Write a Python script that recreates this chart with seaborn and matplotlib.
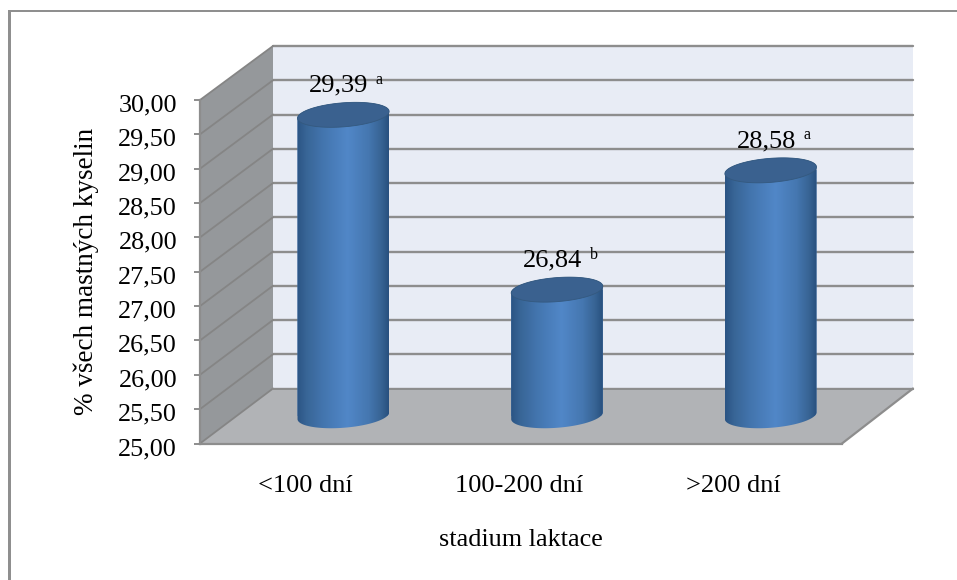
import numpy as np
import pandas as pd
import matplotlib
matplotlib.use("Agg")
import matplotlib.pyplot as plt
import seaborn as sns
from matplotlib.colors import LinearSegmentedColormap
from matplotlib.lines import Line2D
from matplotlib.patches import Polygon, Rectangle
from matplotlib.path import Path
from matplotlib.transforms import IdentityTransform, ScaledTranslation

stages = ["<100 dní", "100-200 dní", ">200 dní"]
fat_acids = [29.39, 26.84, 28.58]
letters = ["a", "b", "a"]
y_ticks = [25.0, 25.5, 26.0, 26.5, 27.0, 27.5, 28.0, 28.5, 29.0, 29.5, 30.0]

W, H = 957, 580
GRID = "#8d8d8d"


def comma(v):
    return f"{v:.2f}".replace(".", ",")


def add_axes_px(fig, left, top, right, bottom, **kw):
    return fig.add_axes([left / W, 1 - bottom / H, (right - left) / W, (bottom - top) / H], **kw)


sns.set_theme(style="white")
plt.rcParams["font.family"] = ["Liberation Serif", "DejaVu Serif"]

fig = plt.figure(figsize=(W / 100, H / 100), dpi=100, facecolor="white")
identity = IdentityTransform()

# Outer chart frame: only the top and left edges are visible
fig.add_artist(Rectangle((8, 0), 3, H - 10, transform=identity, fc="#8f8f8f", ec="none"))
fig.add_artist(Rectangle((8, H - 12), W - 8, 2, transform=identity, fc="#8f8f8f", ec="none"))

# Back wall with horizontal gridlines
ax_back = add_axes_px(fig, 273, 46, 913, 388.5, facecolor="#e8ecf5", zorder=1)
ax_back.set_ylim(25, 30)
ax_back.set_xlim(-0.5, 2.5)
ax_back.set_xticks([])
ax_back.set_yticks(y_ticks)
ax_back.tick_params(left=False, labelleft=False)
ax_back.grid(axis="y", color=GRID, lw=1.7)
ax_back.set_axisbelow(True)
for gridline in ax_back.get_ygridlines():
    gridline.set_clip_on(False)
sns.despine(ax=ax_back, left=True, bottom=True, right=True, top=True)

# Front plane carries the value axis and the category labels
ax_front = add_axes_px(fig, 200, 100, 842, 443.5, facecolor="none", zorder=4)
ax_front.set_ylim(25, 30)
ax_front.set_xlim(-0.5, 2.5)
ax_front.set_yticks(y_ticks)
ax_front.set_yticklabels([comma(t) for t in y_ticks], fontsize=18.8)
ax_front.set_xticks(range(len(stages)))
ax_front.set_xticklabels(stages, fontsize=19)
ax_front.tick_params(axis="y", left=True, length=4.5, width=1.4, color=GRID, pad=12, labelcolor="black")
ax_front.tick_params(axis="x", bottom=False, pad=17, labelcolor="black")
nudge_x = ScaledTranslation(-2 / 100, 0, fig.dpi_scale_trans)
for label in ax_front.get_xticklabels():
    label.set_transform(label.get_transform() + nudge_x)
nudge_y = ScaledTranslation(0, -3 / 100, fig.dpi_scale_trans)
for label in ax_front.get_yticklabels():
    label.set_transform(label.get_transform() + nudge_y)
ax_front.set_ylabel("% všech mastných kyselin", fontsize=19.5, color="black", labelpad=14)
ax_front.set_xlabel("stadium laktace", fontsize=18.8, color="black", labelpad=23)
sns.despine(ax=ax_front, top=True, right=True)
for side in ("left", "bottom"):
    ax_front.spines[side].set_color(GRID)
    ax_front.spines[side].set_linewidth(1.6)

fig.canvas.draw()


def front_px(x, v):
    return ax_front.transData.transform((x, v))


def back_px(x, v):
    return ax_back.transData.transform((x, v))


# Side wall and floor joining the front plane to the back wall
ax_back.add_patch(Polygon([front_px(-0.5, 25), back_px(-0.5, 25), back_px(-0.5, 30), front_px(-0.5, 30)],
                          transform=identity, fc="#95989b", ec="none", clip_on=False, zorder=3))
ax_back.add_patch(Polygon([front_px(-0.5, 25), back_px(-0.5, 25), back_px(2.5, 25), front_px(2.5, 25)],
                          transform=identity, fc="#b1b3b6", ec="none", clip_on=False, zorder=3))
for t in y_ticks:
    p0, p1 = front_px(-0.5, t), back_px(-0.5, t)
    ax_back.add_line(Line2D([p0[0], p1[0]], [p0[1], p1[1]], transform=identity, color="#858585",
                            lw=1.3, clip_on=False, zorder=4))
p0, p1 = front_px(2.5, 25), back_px(2.5, 25)
ax_back.add_line(Line2D([p0[0], p1[0]], [p0[1], p1[1]], transform=identity, color=GRID,
                        lw=1.6, clip_on=False, zorder=4))
p0, p1 = back_px(-0.5, 25), back_px(2.5, 25)
ax_back.add_line(Line2D([p0[0], p1[0]], [p0[1], p1[1]], transform=identity, color=GRID,
                        lw=1.4, clip_on=False, zorder=4))

# Cylinders stand on the plane halfway between the front and the back wall
ax = add_axes_px(fig, 236.5, 73, 877.5, 415.75, facecolor="none", zorder=2)
df = pd.DataFrame({"stage": stages, "value": fat_acids})
sns.barplot(data=df, x="stage", y="value", ax=ax, width=0.43, color="#4a7cb8", saturation=1)
ax.set_xlim(-0.5, 2.5)
ax.set_ylim(25, 30)
ax.axis("off")
fig.canvas.draw()

shade = LinearSegmentedColormap.from_list(
    "cylinder",
    [(0.0, "#2b5484"), (0.10, "#386596"), (0.28, "#4375ae"), (0.55, "#5187c8"),
     (0.78, "#4577b0"), (0.92, "#376393"), (1.0, "#28507e")],
)
tilt = np.deg2rad(4.5)


def ellipse(center, a, b, t):
    ex, ey = a * np.cos(t), b * np.sin(t)
    return np.column_stack([center[0] + ex * np.cos(tilt) - ey * np.sin(tilt),
                            center[1] + ex * np.sin(tilt) + ey * np.cos(tilt)])


for bar, value, letter in zip(ax.patches, fat_acids, letters):
    bar.set_y(25)
    bar.set_height(value - 25)
    bar.set_edgecolor("none")
    x0, x1 = bar.get_x(), bar.get_x() + bar.get_width()
    xc = (x0 + x1) / 2
    top = ax.transData.transform((xc, value))
    base = ax.transData.transform((xc, 25))
    half = (ax.transData.transform((x1, 25))[0] - ax.transData.transform((x0, 25))[0]) / 2

    outline = np.vstack([ellipse(top, half, 12, np.linspace(0, np.pi, 60)),
                         ellipse(base, half, 12, np.linspace(np.pi, 2 * np.pi, 60))])
    bar.set_clip_box(fig.bbox)
    bar.set_clip_path(Path(outline), identity)
    image = ax.imshow(np.linspace(0, 1, 256)[None, :], extent=(x0, x1, 24.5, value + 0.4),
                      aspect="auto", cmap=shade, interpolation="bilinear", zorder=3)
    image.set_clip_box(fig.bbox)
    image.set_clip_path(Path(outline), identity)
    ax.add_patch(Polygon(ellipse(top, half, 12, np.linspace(0, 2 * np.pi, 120)), transform=identity,
                         fc="#3a618f", ec="#34597f", lw=0.6, clip_on=False, zorder=4))

    ax.annotate(comma(value), (xc, value), xytext=(-34 * 0.72, 23 * 0.72), textcoords="offset points",
                ha="left", va="baseline", fontsize=19, color="black", annotation_clip=False, zorder=6)
    ax.annotate(letter, (xc, value), xytext=(32.5 * 0.72, 31 * 0.72), textcoords="offset points",
                ha="left", va="baseline", fontsize=11.5, color="black", annotation_clip=False, zorder=6)

ax.set_xlim(-0.5, 2.5)
ax.set_ylim(25, 30)

fig.savefig("out.png", dpi=100, facecolor="white")
